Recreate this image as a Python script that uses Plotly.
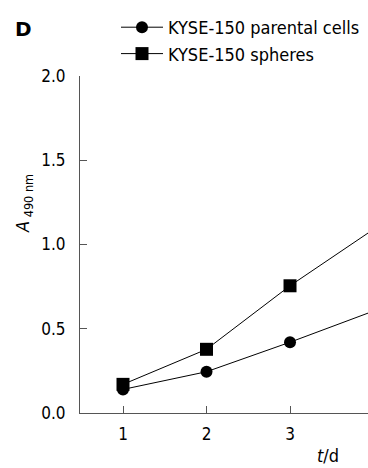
import plotly.graph_objects as go

days = [1, 2, 3, 4]
parental = [0.14, 0.245, 0.42, 0.605]
spheres = [0.17, 0.378, 0.755, 1.09]
y_ticks = [0.0, 0.5, 1.0, 1.5, 2.0]
y_tick_text = ["0.0", "0.5", "1.0", "1.5", "2.0"]
x_ticks = [1, 2, 3]

FONT = "DejaVu Sans Condensed, DejaVu Sans, sans-serif"
W, H = 368, 468
L, R, T, B = 80, 0, 76, 55
pw, ph = W - L - R, H - T - B

def px(x):
    return (x - L) / pw

def py(y):
    return (H - B - y) / ph

# the last day lies just past the cropped right edge: only its connecting line shows
n_vis = 3

fig = go.Figure()
for name, vals, sym, sz in [("KYSE-150 parental cells", parental, "circle", 12),
                            ("KYSE-150 spheres", spheres, "square", 13)]:
    fig.add_trace(go.Scatter(x=days[:n_vis], y=vals[:n_vis], mode="lines+markers", name=name,
                             line=dict(color="black", width=1),
                             marker=dict(symbol=sym, size=sz, color="black")))
    fig.add_trace(go.Scatter(x=days[n_vis - 1:], y=vals[n_vis - 1:], mode="lines", showlegend=False,
                             line=dict(color="black", width=1), hoverinfo="skip"))

axis_common = dict(showline=True, linecolor="#555", linewidth=1, ticks="inside", ticklen=7,
                   tickcolor="#555", showgrid=False, zeroline=False,
                   tickfont=dict(family=FONT, size=17, color="black"))

fig.update_layout(
    width=W, height=H, margin=dict(l=L, r=R, t=T, b=B),
    paper_bgcolor="white", plot_bgcolor="white",
    font=dict(family=FONT, color="black"),
    xaxis=dict(range=[0.485, 3.934], tickvals=x_ticks, ticklabelstandoff=6, **axis_common),
    yaxis=dict(range=[0, 2.0], tickvals=y_ticks, ticktext=y_tick_text, ticklabelstandoff=10, **axis_common),
    showlegend=True,
    legend=dict(x=px(116), y=py(9), xanchor="left", yanchor="top", font=dict(family=FONT, size=18),
                bgcolor="rgba(0,0,0,0)", itemwidth=42, tracegroupgap=0),
    annotations=[
        dict(text="<b>D</b>", x=px(23), y=py(29), xref="paper", yref="paper", showarrow=False,
             xanchor="center", yanchor="middle",
             font=dict(family="DejaVu Sans, sans-serif", size=20, color="black")),
        dict(text="<i>A</i><sub> 490 nm</sub>", x=px(24), y=py(204), xref="paper", yref="paper",
             xanchor="center", yanchor="middle",
             showarrow=False, textangle=-90, font=dict(family=FONT, size=18, color="black")),
        dict(text="<i>t</i>/d", x=px(328), y=py(455), xref="paper", yref="paper", showarrow=False,
             xanchor="center", yanchor="middle",
             font=dict(family=FONT, size=18, color="black")),
    ],
)

fig.write_html("out.html")
